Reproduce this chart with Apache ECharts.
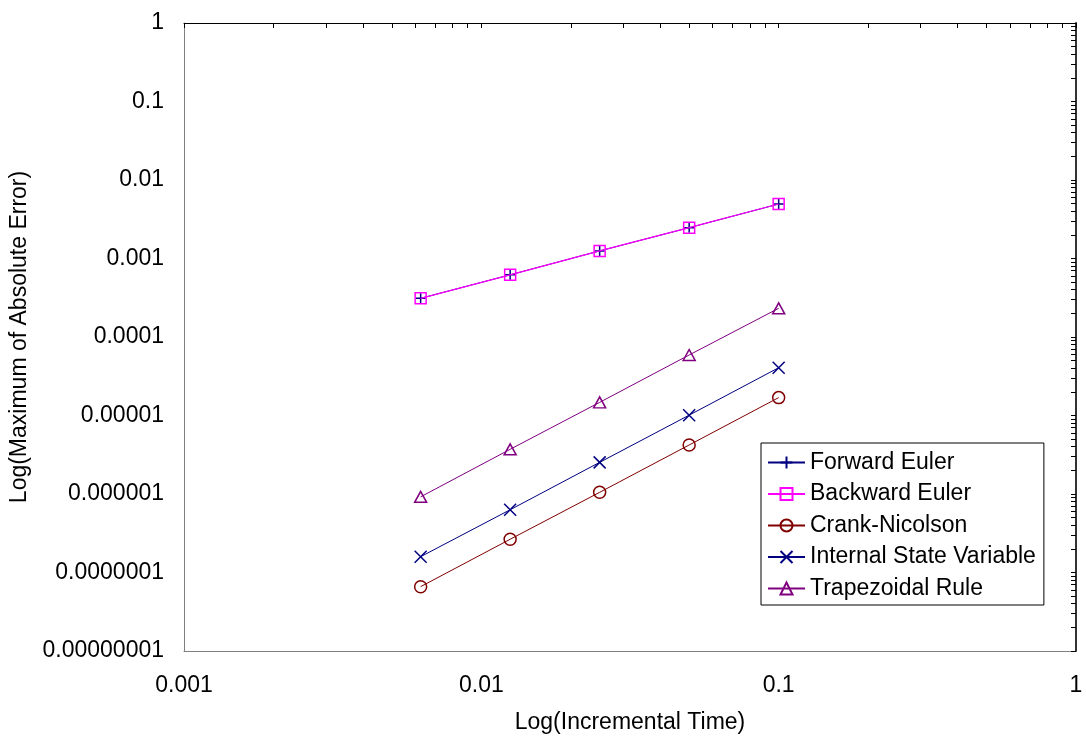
<!DOCTYPE html>
<html>
<head>
<meta charset="utf-8">
<script src="https://cdn.jsdelivr.net/npm/echarts@6/dist/echarts.min.js"></script>
<style>
html,body{margin:0;padding:0;background:#fff;}
#chart{width:1086px;height:741px;}
</style>
</head>
<body>
<div id="chart"></div>
<script>
const incrementalTime = [0.00625, 0.0125, 0.025, 0.05, 0.1];
const forwardEuler = [3.11e-4, 6.2e-4, 1.25e-3, 2.47e-3, 4.94e-3];
const backwardEuler = [3.11e-4, 6.2e-4, 1.25e-3, 2.47e-3, 4.94e-3];
const crankNicolson = [6.6e-8, 2.65e-7, 1.05e-6, 4.21e-6, 1.69e-5];
const internalStateVariable = [1.59e-7, 6.3e-7, 2.53e-6, 1.01e-5, 4.06e-5];
const trapezoidalRule = [9.2e-7, 3.71e-6, 1.47e-5, 5.9e-5, 2.32e-4];
const xTickLabels = ['0.001', '0.01', '0.1', '1'];
const yTickLabels = ['0.00000001', '0.0000001', '0.000001', '0.00001', '0.0001', '0.001', '0.01', '0.1', '1'];

const pairs = ys => incrementalTime.map((x, i) => [x, ys[i]]);
const FONT = 'Liberation Sans, Arial, sans-serif';
const FS = 23;

const chart = echarts.init(document.getElementById('chart'), null, {renderer: 'canvas'});
const plusPath = 'path://M5,0 L5,10 M0,5 L10,5';
const crossPath = 'path://M0,0 L10,10 M10,0 L0,10';

chart.setOption({
  animation: false,
  backgroundColor: '#fff',
  grid: {left: 184, right: 10, top: 23, bottom: 90, containLabel: false, outerBoundsMode: 'none'},
  xAxis: [{
    type: 'log', logBase: 10, min: 0.001, max: 1, splitNumber: 3,
    position: 'bottom',
    name: 'Log(Incremental Time)', nameLocation: 'middle', nameGap: 60,
    nameTextStyle: {fontFamily: FONT, fontSize: FS, color: '#000'},
    axisLine: {show: true, lineStyle: {color: '#808080', width: 1}},
    axisTick: {show: false},
    splitLine: {show: false},
    axisLabel: {
      fontFamily: FONT, fontSize: FS, color: '#000', margin: 23,
      formatter: v => xTickLabels[Math.round(Math.log10(v)) + 3]
    }
  }, {
    type: 'log', logBase: 10, min: 0.001, max: 1, splitNumber: 3,
    position: 'top',
    axisLine: {show: true, onZero: false, lineStyle: {color: '#000', width: 1}},
    axisTick: {show: true, inside: true, length: 5, lineStyle: {color: '#000'}},
    minorTick: {show: true, splitNumber: 9, length: 5, lineStyle: {color: '#000'}},
    axisLabel: {show: false},
    splitLine: {show: false}
  }],
  yAxis: [{
    type: 'log', logBase: 10, min: 1e-8, max: 1, splitNumber: 8,
    position: 'left',
    name: 'Log(Maximum of Absolute Error)', nameLocation: 'middle', nameGap: 153, nameRotate: 90,
    nameTextStyle: {fontFamily: FONT, fontSize: FS, color: '#000'},
    axisLine: {show: true, lineStyle: {color: '#808080', width: 1}},
    axisTick: {show: false},
    splitLine: {show: false},
    axisLabel: {
      fontFamily: FONT, fontSize: FS, color: '#000', margin: 20, padding: [5, 0, 0, 0],
      formatter: v => yTickLabels[Math.round(Math.log10(v)) + 8]
    }
  }, {
    type: 'log', logBase: 10, min: 1e-8, max: 1, splitNumber: 8,
    position: 'right',
    axisLine: {show: true, onZero: false, lineStyle: {color: '#333', width: 2}},
    axisTick: {show: true, inside: true, length: 5, lineStyle: {color: '#000'}},
    minorTick: {show: true, splitNumber: 9, length: 5, lineStyle: {color: '#000'}},
    axisLabel: {show: false},
    splitLine: {show: false}
  }],
  legend: {
    orient: 'vertical',
    left: 761, top: 443,
    padding: [8, 8, 5, 6],
    itemGap: 8.5,
    itemWidth: 37, itemHeight: 15,
    borderColor: '#000', borderWidth: 1,
    backgroundColor: '#fff',
    textStyle: {fontFamily: FONT, fontSize: FS, color: '#000'},
    data: ['Forward Euler', 'Backward Euler', 'Crank-Nicolson', 'Internal State Variable', 'Trapezoidal Rule']
  },
  series: [{
    name: 'Forward Euler', type: 'line', data: pairs(forwardEuler),
    symbol: plusPath, symbolSize: 10,
    itemStyle: {color: '#000080', borderColor: '#000080', borderWidth: 1.5},
    lineStyle: {color: '#000080', width: 1}, z: 2
  }, {
    name: 'Backward Euler', type: 'line', data: pairs(backwardEuler),
    symbol: 'rect', symbolSize: 11,
    itemStyle: {color: 'rgba(255,255,255,0)', borderColor: '#FF00FF', borderWidth: 1.5},
    lineStyle: {color: '#FF00FF', width: 1.2}, z: 3
  }, {
    name: 'Crank-Nicolson', type: 'line', data: pairs(crankNicolson),
    symbol: 'circle', symbolSize: 12,
    itemStyle: {color: 'rgba(255,255,255,0)', borderColor: '#800000', borderWidth: 1.5},
    lineStyle: {color: '#800000', width: 1}
  }, {
    name: 'Internal State Variable', type: 'line', data: pairs(internalStateVariable),
    symbol: crossPath, symbolSize: 12,
    itemStyle: {color: '#000080', borderColor: '#000080', borderWidth: 1.5},
    lineStyle: {color: '#000080', width: 1}
  }, {
    name: 'Trapezoidal Rule', type: 'line', data: pairs(trapezoidalRule),
    symbol: 'triangle', symbolSize: [12, 11],
    itemStyle: {color: 'rgba(255,255,255,0)', borderColor: '#800080', borderWidth: 1.5},
    lineStyle: {color: '#800080', width: 1}
  }]
});
</script>
</body>
</html>
